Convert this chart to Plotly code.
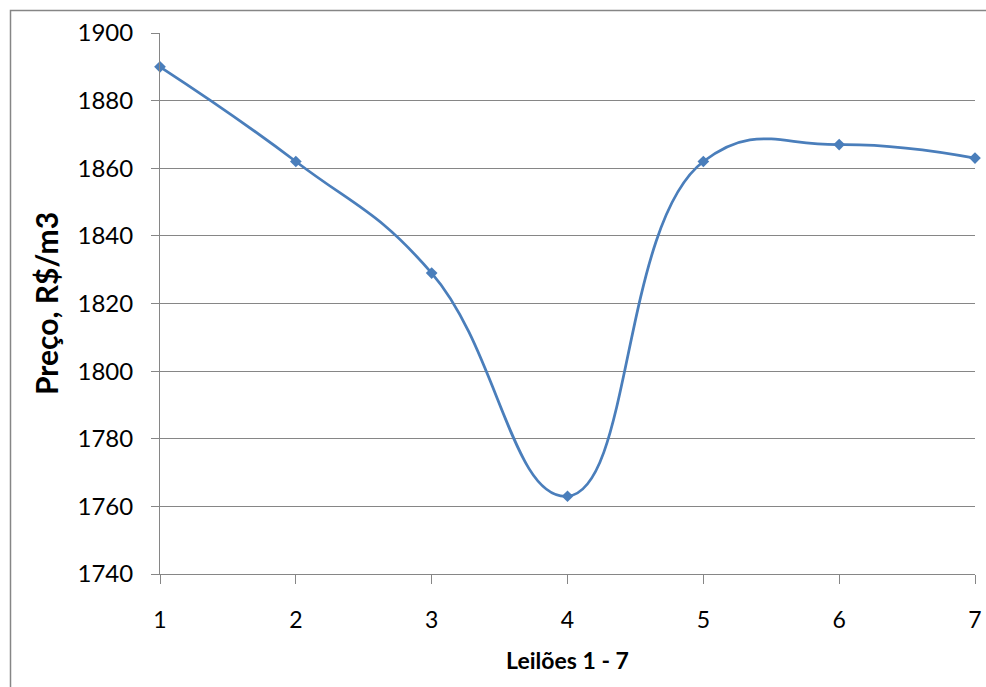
import plotly.graph_objects as go

leiloes = [1, 2, 3, 4, 5, 6, 7]
precos = [1890, 1862, 1829, 1763, 1862, 1867, 1863]
y_ticks = [1740, 1760, 1780, 1800, 1820, 1840, 1860, 1880, 1900]

W, H = 986, 687
L, R, T, B = 160, 11, 33, 113

fig = go.Figure()
fig.add_trace(go.Scatter(
    x=leiloes, y=precos, mode="lines+markers",
    line=dict(color="#4A7EBB", width=2.75, shape="spline", smoothing=1.3),
    marker=dict(symbol="diamond", size=9, color="#4A7EBB"),
    showlegend=False, cliponaxis=False,
))

font = "Lato, 'Open Sans', sans-serif"
fig.update_layout(
    width=W, height=H,
    margin=dict(l=L, r=R, t=T, b=B, autoexpand=False),
    paper_bgcolor="white", plot_bgcolor="white",
    font=dict(family=font, color="black"),
    xaxis=dict(
        range=[1, 7], tickvals=leiloes, ticks="outside", ticklen=9,
        tickcolor="#868686", showgrid=False, showline=True, linecolor="#868686",
        linewidth=1, zeroline=False, tickfont=dict(size=23), ticklabelstandoff=16,
        automargin=False,
        title=dict(text="<b>Leilões 1 - 7</b>", font=dict(size=23), standoff=21),
    ),
    yaxis=dict(
        range=[1740, 1900], tickvals=y_ticks, ticks="outside", ticklen=8,
        tickcolor="#868686", showgrid=True, gridcolor="#868686", gridwidth=1,
        showline=True, linecolor="#868686", linewidth=1, zeroline=False,
        tickfont=dict(size=24), ticklabelstandoff=13, automargin=False,
        title=dict(text="<b>Preço, R$/m3</b>", font=dict(size=30), standoff=10),
    ),
)

# outer chart-area border (left and top visible)
px = lambda p: (p - L) / (W - L - R)
py = lambda p: 1 - (p - T) / (H - T - B)
fig.add_shape(type="rect", xref="paper", yref="paper",
              x0=px(10.5), x1=px(1100), y0=py(10.5), y1=py(800),
              line=dict(color="#868686", width=1.5), layer="below")

fig.write_html("out.html")
